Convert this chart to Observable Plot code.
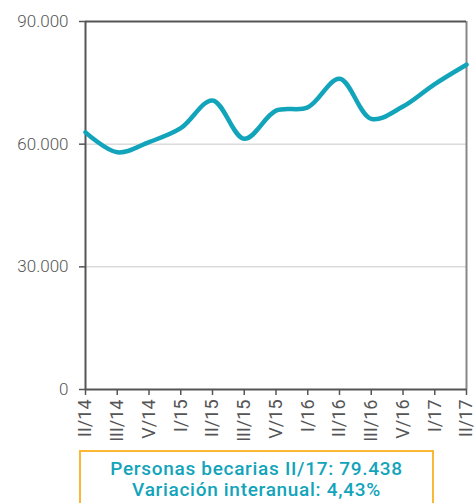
<!DOCTYPE html>
<html><head><meta charset="utf-8">
<script src="https://cdn.jsdelivr.net/npm/d3@7"></script>
<script src="https://cdn.jsdelivr.net/npm/@observablehq/plot@0.6"></script>
<style>
html,body{margin:0;background:#fff;font-family:Roboto,"DejaVu Sans",sans-serif;overflow:hidden;}
#chart svg{display:block;max-width:none;}
#cap{position:absolute;left:79px;top:450px;width:351px;height:60px;border:2px solid #fbb834;box-sizing:content-box;
 color:#12a4ba;font-size:19px;font-weight:500;text-align:center;line-height:21px;padding-top:6px;letter-spacing:0.7px;}
</style></head>
<body>
<div id="chart"></div>
<div id="cap">Personas becarias II/17: 79.438<br>Variación interanual: 4,43%</div>
<script>
const periods = ["II/14","III/14","V/14","I/15","II/15","III/15","V/15","I/16","II/16","III/16","V/16","I/17","II/17"];
const becarios = [62900, 58000, 60500, 63900, 70700, 61300, 68200, 69000, 76000, 66200, 69200, 74700, 79438];
const yTicks = [0, 30000, 60000, 90000];
const gridTicks = [30000, 60000];

const data = periods.map((p, i) => ({p, v: becarios[i]}));
const fmt = d3.formatLocale({decimal: ",", thousands: ".", grouping: [3]}).format(",d");

const chart = Plot.plot({
  width: 475, height: 440,
  marginTop: 21, marginBottom: 51, marginLeft: 85, marginRight: 9,
  style: {fontFamily: "Roboto, sans-serif", fontSize: "17px", color: "#555", fontWeight: 300, overflow: "visible"},
  x: {type: "point", domain: periods, padding: 0, round: false, label: null},
  y: {domain: [0, 90000], label: null},
  marks: [
    Plot.ruleY(gridTicks, {stroke: "#c8c8c8", strokeWidth: 1}),
    Plot.ruleX([periods[periods.length - 1]], {stroke: "#888", strokeWidth: 2}),
    Plot.ruleY([90000], {stroke: "#555", strokeWidth: 2}),
    Plot.ruleY([0], {stroke: "#555", strokeWidth: 2}),
    Plot.ruleX([periods[0]], {stroke: "#555", strokeWidth: 2}),
    Plot.axisY({ticks: yTicks, tickFormat: fmt, tickSize: 6, tickPadding: 11, stroke: "#555", strokeWidth: 1.5, label: null}),
    Plot.axisX({tickRotate: -90, tickSize: 6, tickPadding: 4, stroke: "#555", strokeWidth: 1.5, fontSize: 18, fontWeight: 400, label: null}),
    Plot.line(data, {x: "p", y: "v", stroke: "#12a4ba", strokeWidth: 4.5, curve: "catmull-rom"})
  ]
});
document.getElementById("chart").appendChild(chart);
</script>
</body></html>
